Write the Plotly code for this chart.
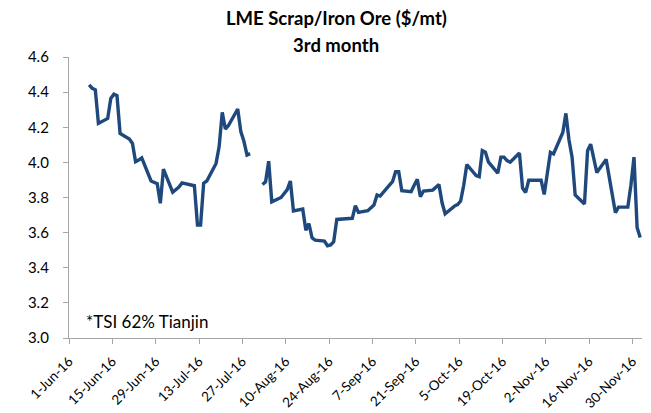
import pandas as pd
import plotly.graph_objects as go

# LME Scrap / Iron Ore ratio, 3rd month (business days, None = no print)
dates = [
    "2016-06-07", "2016-06-08", "2016-06-09", "2016-06-10", "2016-06-13", "2016-06-14",
    "2016-06-15", "2016-06-16", "2016-06-17", "2016-06-20", "2016-06-21", "2016-06-22",
    "2016-06-23", "2016-06-24", "2016-06-27", "2016-06-28", "2016-06-29", "2016-06-30",
    "2016-07-01", "2016-07-04", "2016-07-05", "2016-07-06", "2016-07-07", "2016-07-08",
    "2016-07-11", "2016-07-12", "2016-07-13", "2016-07-14", "2016-07-15", "2016-07-18",
    "2016-07-19", "2016-07-20", "2016-07-21", "2016-07-22", "2016-07-25", "2016-07-26",
    "2016-07-27", "2016-07-28", "2016-07-29", "2016-08-01", "2016-08-02", "2016-08-03",
    "2016-08-04", "2016-08-05", "2016-08-08", "2016-08-09", "2016-08-10", "2016-08-11",
    "2016-08-12", "2016-08-15", "2016-08-16", "2016-08-17", "2016-08-18", "2016-08-19",
    "2016-08-22", "2016-08-23", "2016-08-24", "2016-08-25", "2016-08-26", "2016-08-30",
    "2016-08-31", "2016-09-01", "2016-09-02", "2016-09-05", "2016-09-06", "2016-09-07",
    "2016-09-08", "2016-09-09", "2016-09-12", "2016-09-13", "2016-09-14", "2016-09-15",
    "2016-09-16", "2016-09-19", "2016-09-20", "2016-09-21", "2016-09-22", "2016-09-23",
    "2016-09-26", "2016-09-27", "2016-09-28", "2016-09-29", "2016-09-30", "2016-10-03",
    "2016-10-04", "2016-10-05", "2016-10-06", "2016-10-07", "2016-10-10", "2016-10-11",
    "2016-10-12", "2016-10-13", "2016-10-14", "2016-10-17", "2016-10-18", "2016-10-19",
    "2016-10-20", "2016-10-21", "2016-10-24", "2016-10-25", "2016-10-26", "2016-10-27",
    "2016-10-28", "2016-10-31", "2016-11-01", "2016-11-02", "2016-11-03", "2016-11-04",
    "2016-11-07", "2016-11-08", "2016-11-09", "2016-11-10", "2016-11-11", "2016-11-14",
    "2016-11-15", "2016-11-16", "2016-11-17", "2016-11-18", "2016-11-21", "2016-11-22",
    "2016-11-23", "2016-11-24", "2016-11-25", "2016-11-28", "2016-11-29", "2016-11-30",
    "2016-12-01", "2016-12-02",
]
ratio = [
    4.441, 4.422, 4.413, 4.222, 4.250, 4.364,
    4.388, 4.380, 4.165, 4.133, 4.108, 4.004,
    4.013, 4.026, 3.894, 3.885, 3.879, 3.767,
    3.962, 3.830, 3.843, 3.860, 3.883, 3.879,
    3.867, 3.643, 3.643, 3.882, 3.894, 3.994,
    4.090, 4.285, 4.190, 4.210, 4.304, 4.175,
    4.120, 4.042, 4.050, None, 3.874, 3.889,
    4.007, 3.775, 3.800, 3.820, 3.845, 3.894,
    3.723, 3.734, 3.614, 3.652, 3.570, 3.557,
    3.552, 3.525, 3.530, 3.548, 3.675, 3.680,
    3.681, 3.753, 3.715, 3.725, 3.740, 3.757,
    3.814, 3.808, 3.870, 3.890, 3.947, 3.947,
    3.839, 3.833, 3.870, 3.903, 3.804, 3.837,
    3.842, 3.860, 3.874, 3.770, 3.707, 3.751,
    3.760, 3.780, 3.870, 3.988, 3.925, 3.919,
    4.067, 4.058, 4.001, 3.939, 4.030, 4.030,
    4.010, 4.001, 4.053, 3.854, 3.829, 3.898,
    3.898, 3.898, 3.817, 3.940, 4.057, 4.048,
    4.170, 4.279, 4.127, 4.030, 3.814, 3.763,
    4.066, 4.104, 4.020, 3.942, 4.017, 3.920,
    3.820, 3.713, 3.745, 3.745, 3.870, 4.030,
    3.629, 3.572,
]

title_lines = ["LME Scrap/Iron Ore ($/mt)", "3rd month"]
note = "*TSI 62% Tianjin"
y_ticks = [3.0, 3.2, 3.4, 3.6, 3.8, 4.0, 4.2, 4.4, 4.6]

# points sit in the middle of each day slot (Excel date axis style)
x = pd.to_datetime(dates) + pd.Timedelta(hours=12)

fig = go.Figure()
fig.add_trace(go.Scatter(
    x=x, y=ratio, mode="lines",
    line=dict(color="#1F497D", width=3.4),
    connectgaps=False, showlegend=False, hoverinfo="x+y",
))

axis_col = "#A6A6A6"
font_fam = "Lato, 'Open Sans', sans-serif"

fig.update_layout(
    width=643, height=405,
    margin=dict(l=61, r=9, t=49, b=75, autoexpand=False),
    paper_bgcolor="white", plot_bgcolor="white",
    font=dict(family=font_fam, color="#000000", size=14),
    xaxis=dict(
        type="date", automargin=False,
        range=["2016-06-01", "2016-12-03 02:00"],
        tick0="2016-06-01", dtick=14 * 86400000,
        tickformat="%-d-%b-%y", tickangle=-45,
        showgrid=False, zeroline=False,
        showline=True, linecolor=axis_col, linewidth=1.3,
        ticks="outside", ticklen=5, tickcolor=axis_col, tickwidth=1.3,
        ticklabelstandoff=4,
        tickfont=dict(size=13.5, family=font_fam, color="#000000"),
    ),
    yaxis=dict(
        automargin=False,
        range=[3.0, 4.6], tickvals=y_ticks, tickformat=".1f",
        showgrid=False, zeroline=False,
        showline=True, linecolor=axis_col, linewidth=1.3,
        ticks="outside", ticklen=5, tickcolor=axis_col, tickwidth=1.3,
        ticklabelstandoff=11,
        tickfont=dict(size=15, family=font_fam, color="#000000"),
    ),
    annotations=[
        dict(text="<b>" + title_lines[0] + "</b>", xref="paper", yref="paper",
             x=0.466, y=1.139, xanchor="center", yanchor="middle", showarrow=False,
             font=dict(size=18.5, family=font_fam, color="#000000")),
        dict(text="<b>" + title_lines[1] + "</b>", xref="paper", yref="paper",
             x=0.466, y=1.043, xanchor="center", yanchor="middle", showarrow=False,
             font=dict(size=18.5, family=font_fam, color="#000000")),
        dict(text=note, xref="paper", yref="paper", x=0.027, y=0.057,
             xanchor="left", yanchor="middle", showarrow=False,
             font=dict(size=17, family=font_fam, color="#000000")),
    ],
)

fig.write_html("out.html")
